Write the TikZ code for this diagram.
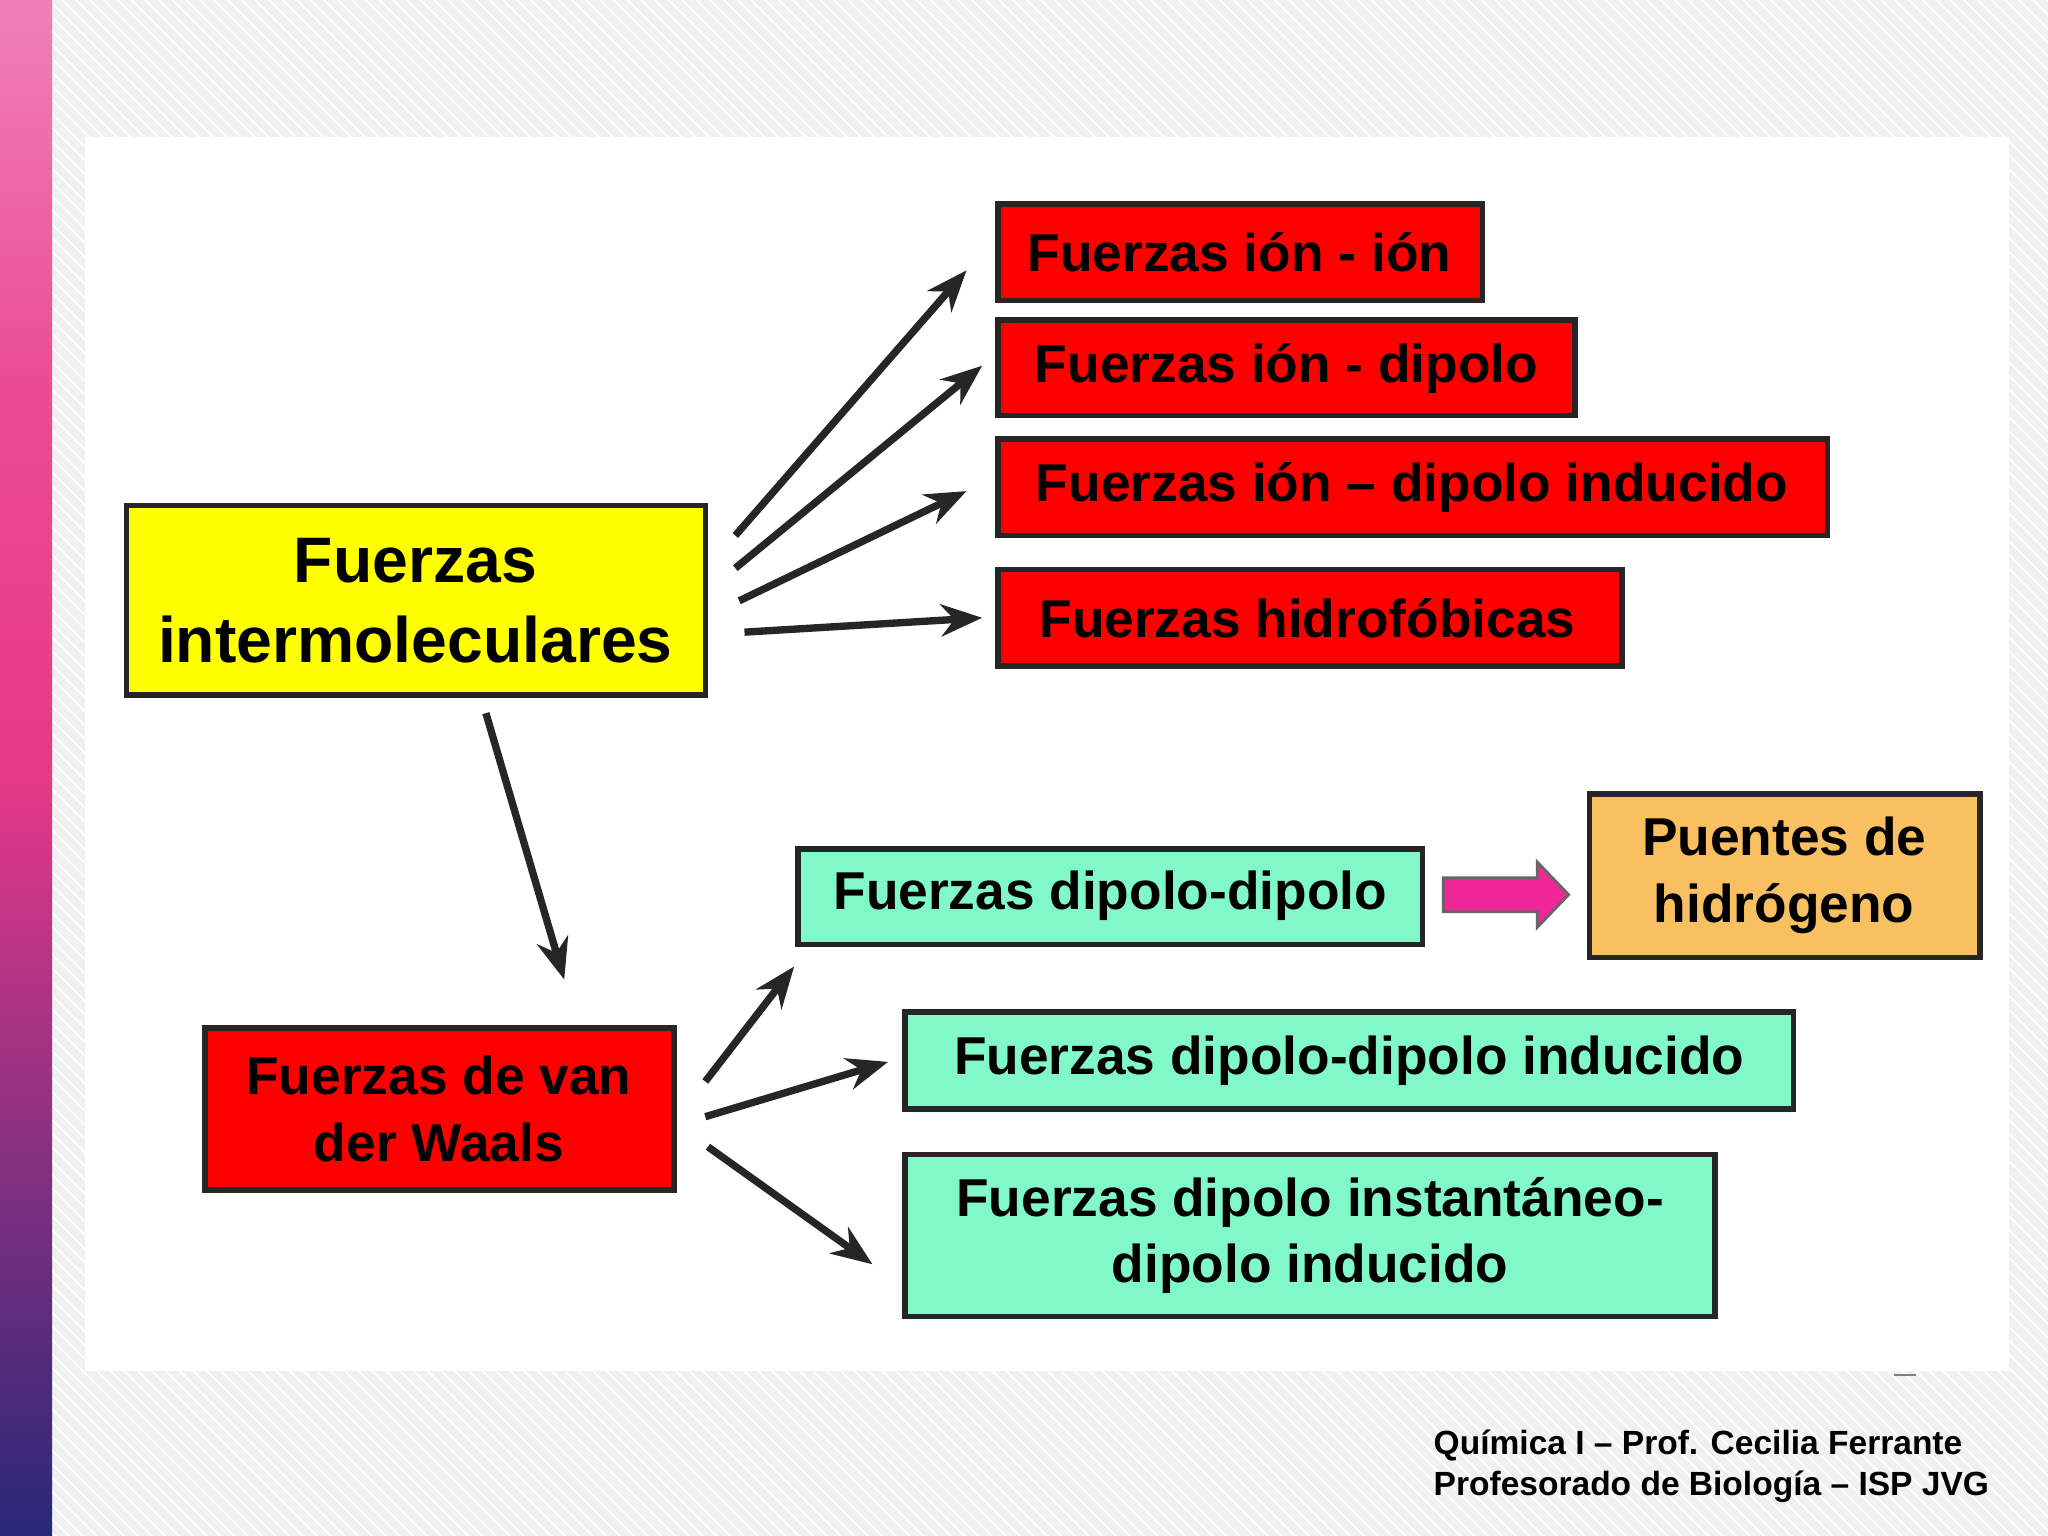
\documentclass[tikz,border=0pt]{standalone}
\usepackage{fontspec}
\setmainfont{Liberation Sans}
\usetikzlibrary{patterns,arrows.meta}
\definecolor{boxred}{HTML}{FF0000}
\definecolor{boxyel}{HTML}{FFFF00}
\definecolor{boxcyan}{HTML}{80F8C8}
\definecolor{boxor}{HTML}{F8C060}
\definecolor{stripetop}{HTML}{F080B8}
\definecolor{stripemid}{HTML}{E83888}
\definecolor{stripebot}{HTML}{282878}
\tikzset{
  bx/.style={draw=black!85,line width=1.2pt,inner sep=0pt},
  lbl/.style={font=\bfseries\fontsize{11.6}{14.5}\selectfont,align=center},
  arr/.style={-{Stealth[length=9pt,width=7pt]},line width=1.6pt,black!85}
}
\begin{document}
\begin{tikzpicture}[x=0.01cm,y=-0.01cm]
\useasboundingbox (0,0) rectangle (1568,1176);
\fill[black!6] (0,0) rectangle (1568,1176);
\fill[pattern=north west lines,pattern color=white] (0,0) rectangle (1568,1176);
\fill[white] (65,105) rectangle (1538,1050);
\shade[top color=stripetop,bottom color=stripemid,middle color=stripemid!90] (0,0) rectangle (40,588);
\shade[top color=stripemid,bottom color=stripebot] (0,588) rectangle (40,1176);
% boxes
\draw[bx,fill=boxyel] (97,387) rectangle (540,532);
\node[lbl,font=\bfseries\fontsize{14}{17.5}\selectfont] (fi) at (318,460) {Fuerzas\\intermoleculares};
\draw[bx,fill=boxred] (764,156) rectangle (1135,230); \node[lbl] (r1) at (949,193) {Fuerzas ión - ión};
\draw[bx,fill=boxred] (764,245) rectangle (1206,318); \node[lbl] (r2) at (985,282) {Fuerzas ión - dipolo};
\draw[bx,fill=boxred] (764,336) rectangle (1399,410); \node[lbl] (r3) at (1081,373) {Fuerzas ión – dipolo inducido};
\draw[bx,fill=boxred] (764,436) rectangle (1242,510); \node[lbl] (r4) at (1001,473) {Fuerzas hidrofóbicas};
\draw[bx,fill=boxred] (157,787) rectangle (516,911); \node[lbl] (vw) at (336,849) {Fuerzas de van\\der Waals};
\draw[bx,fill=boxcyan] (611,650) rectangle (1089,723); \node[lbl] (c1) at (850,686) {Fuerzas dipolo-dipolo};
\draw[bx,fill=boxcyan] (693,775) rectangle (1373,849); \node[lbl] (c2) at (1033,812) {Fuerzas dipolo-dipolo inducido};
\draw[bx,fill=boxcyan] (693,884) rectangle (1313,1008); \node[lbl] (c3) at (1003,946) {Fuerzas dipolo instantáneo-\\dipolo inducido};
\draw[bx,fill=boxor] (1217,608) rectangle (1516,733); \node[lbl] (ph) at (1366,670) {Puentes de\\hidrógeno};
% pink block arrow
\draw[draw=black!60,line width=0.6pt,fill=magenta!80!pink] (1105,672) -- (1177,672) -- (1177,660) -- (1201,685) -- (1177,710) -- (1177,698) -- (1105,698) -- cycle;
% arrows
\coordinate (a0) at (563,410); \coordinate (a1) at (740,207);
\coordinate (b0) at (563,435); \coordinate (b1) at (752,280);
\coordinate (c0) at (566,460); \coordinate (cc1) at (740,376);
\coordinate (d0) at (570,484); \coordinate (d1) at (752,473);
\coordinate (e0) at (372,546); \coordinate (e1) at (432,750);
\coordinate (f0) at (540,828); \coordinate (f1) at (608,740);
\coordinate (g0) at (540,855); \coordinate (g1) at (680,813);
\coordinate (h0) at (542,878); \coordinate (h1) at (668,968);
\draw[arr] (a0)--(a1); \draw[arr] (b0)--(b1); \draw[arr] (c0)--(cc1); \draw[arr] (d0)--(d1);
\draw[arr] (e0)--(e1); \draw[arr] (f0)--(f1); \draw[arr] (g0)--(g1); \draw[arr] (h0)--(h1);
\draw[gray] (1450,1053)--(1467,1053);
\node[anchor=north west,align=left,font=\bfseries\fontsize{7.3}{9}\selectfont,inner sep=0pt] (ft) at (1097,1094) {Química I – Prof. Cecilia Ferrante\\Profesorado de Biología – ISP JVG};
\end{tikzpicture}
\end{document}
